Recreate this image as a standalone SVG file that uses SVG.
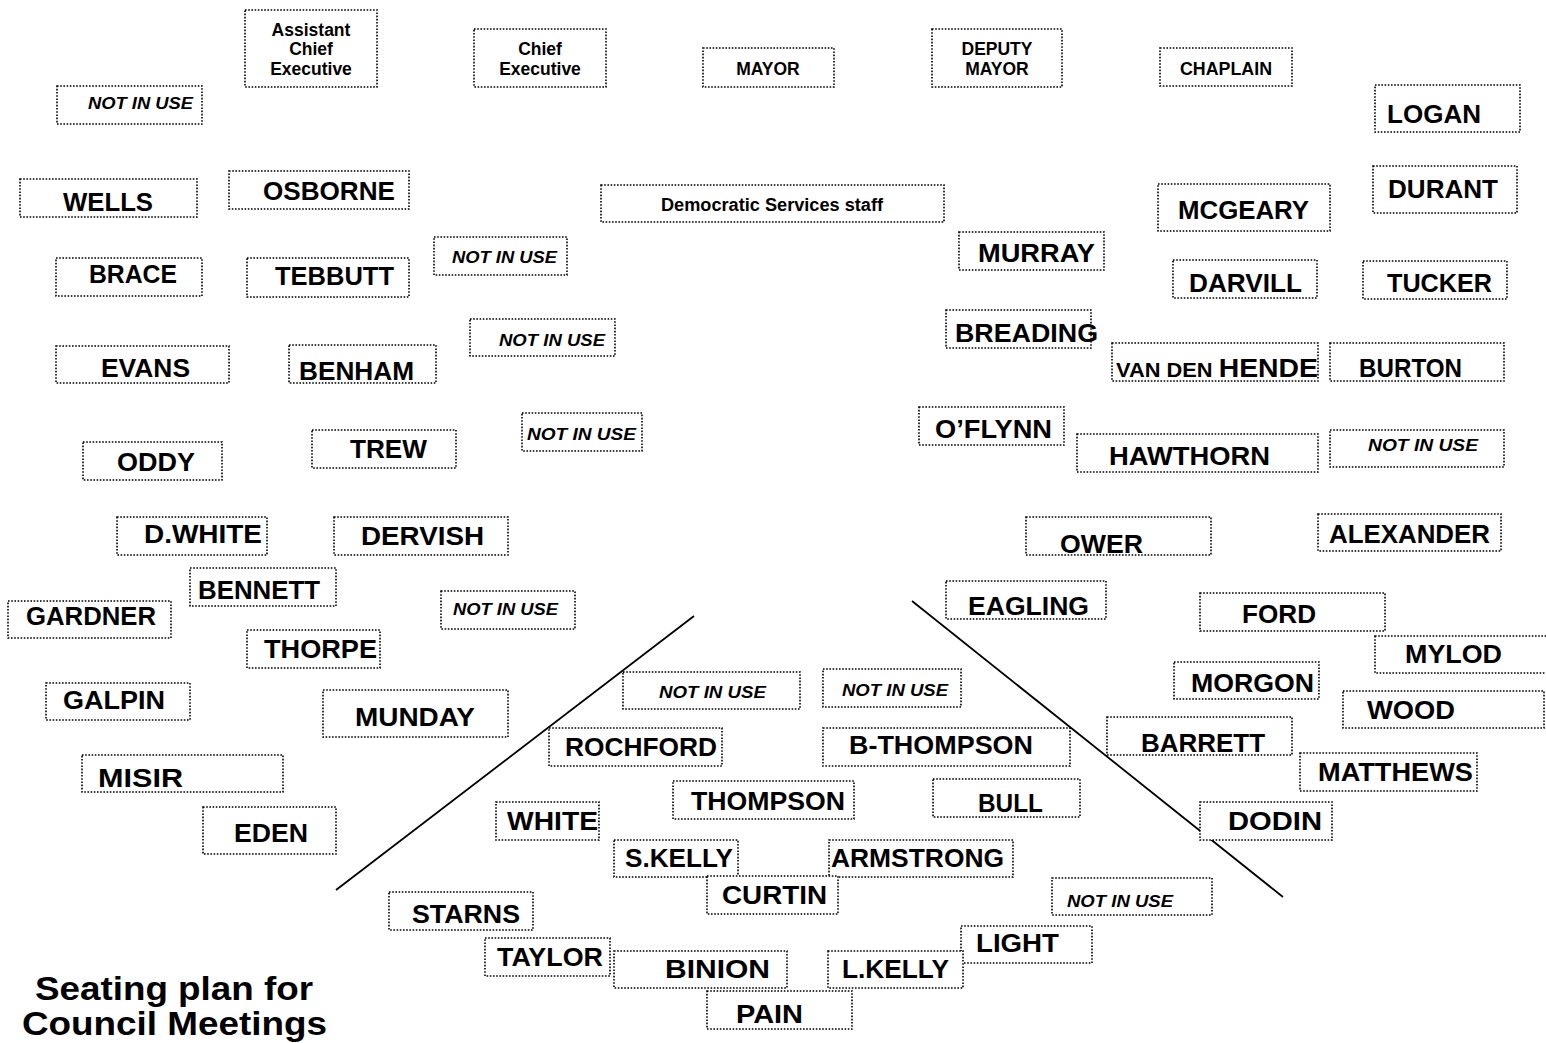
<svg xmlns="http://www.w3.org/2000/svg" width="1546" height="1043" viewBox="0 0 1546 1043">
<style>
rect{fill:#fff;stroke:#000;stroke-width:1.6;stroke-dasharray:1.6 1.6}
text{font-family:"Liberation Sans",Arial,sans-serif;font-weight:bold;fill:#000}
.n{font-size:26px}
.s{font-size:17.5px;text-anchor:middle}
.u{font-size:16.5px;font-style:italic}
.t{font-size:34px}
line{stroke:#000;stroke-width:1.8}
</style>
<rect x="0" y="0" width="1546" height="1043" style="fill:#fff;stroke:none"/>
<g id="connectors">
<line x1="694" y1="616" x2="336" y2="890"/>
<line x1="912" y1="601" x2="1283" y2="897"/>
</g>
<g id="ace"><rect x="245" y="10" width="132" height="77"/><text class="s" x="311" y="36">Assistant</text><text class="s" x="311" y="55">Chief</text><text class="s" x="311" y="75">Executive</text></g>
<g id="ce"><rect x="474" y="29" width="132" height="58"/><text class="s" x="540" y="55">Chief</text><text class="s" x="540" y="75">Executive</text></g>
<g id="mayor"><rect x="703" y="48" width="131" height="39"/><text class="s" x="768" y="75">MAYOR</text></g>
<g id="deputy"><rect x="932" y="29" width="130" height="58"/><text class="s" x="997" y="55">DEPUTY</text><text class="s" x="997" y="75">MAYOR</text></g>
<g id="chaplain"><rect x="1160" y="48" width="132" height="38"/><text class="s" x="1226" y="75" textLength="92" lengthAdjust="spacingAndGlyphs">CHAPLAIN</text></g>
<g id="niu1"><rect x="57" y="86" width="145" height="38"/><text class="u" x="88" y="109" textLength="105" lengthAdjust="spacingAndGlyphs">NOT IN USE</text></g>
<g id="logan"><rect x="1375" y="85" width="145" height="47"/><text class="n" x="1387" y="123" textLength="94" lengthAdjust="spacingAndGlyphs">LOGAN</text></g>
<g id="wells"><rect x="20" y="179" width="177" height="38"/><text class="n" x="63" y="211" textLength="90" lengthAdjust="spacingAndGlyphs">WELLS</text></g>
<g id="osborne"><rect x="229" y="171" width="180" height="38"/><text class="n" x="263" y="200" textLength="132" lengthAdjust="spacingAndGlyphs">OSBORNE</text></g>
<g id="dss"><rect x="601" y="185" width="343" height="37"/><text class="s" x="772" y="211" textLength="222" lengthAdjust="spacingAndGlyphs">Democratic Services staff</text></g>
<g id="durant"><rect x="1373" y="166" width="144" height="47"/><text class="n" x="1388" y="198" textLength="110" lengthAdjust="spacingAndGlyphs">DURANT</text></g>
<g id="mcgeary"><rect x="1158" y="184" width="172" height="47"/><text class="n" x="1178" y="219" textLength="131" lengthAdjust="spacingAndGlyphs">MCGEARY</text></g>
<g id="murray"><rect x="959" y="232" width="145" height="38"/><text class="n" x="978" y="262" textLength="117" lengthAdjust="spacingAndGlyphs">MURRAY</text></g>
<g id="niu2"><rect x="434" y="237" width="133" height="38"/><text class="u" x="452" y="263" textLength="105" lengthAdjust="spacingAndGlyphs">NOT IN USE</text></g>
<g id="brace"><rect x="56" y="258" width="146" height="38"/><text class="n" x="89" y="283" textLength="88" lengthAdjust="spacingAndGlyphs">BRACE</text></g>
<g id="tebbutt"><rect x="247" y="258" width="162" height="39"/><text class="n" x="275" y="285" textLength="119" lengthAdjust="spacingAndGlyphs">TEBBUTT</text></g>
<g id="darvill"><rect x="1173" y="260" width="144" height="38"/><text class="n" x="1189" y="292" textLength="113" lengthAdjust="spacingAndGlyphs">DARVILL</text></g>
<g id="tucker"><rect x="1363" y="261" width="144" height="38"/><text class="n" x="1387" y="292" textLength="105" lengthAdjust="spacingAndGlyphs">TUCKER</text></g>
<g id="niu3"><rect x="470" y="319" width="145" height="37"/><text class="u" x="499" y="346" textLength="106" lengthAdjust="spacingAndGlyphs">NOT IN USE</text></g>
<g id="breading"><rect x="946" y="310" width="145" height="38"/><text class="n" x="955" y="342" textLength="143" lengthAdjust="spacingAndGlyphs">BREADING</text></g>
<g id="evans"><rect x="56" y="346" width="173" height="37"/><text class="n" x="101" y="377" textLength="89" lengthAdjust="spacingAndGlyphs">EVANS</text></g>
<g id="benham"><rect x="289" y="345" width="147" height="38"/><text class="n" x="299" y="380" textLength="115" lengthAdjust="spacingAndGlyphs">BENHAM</text></g>
<g id="vandenhende"><rect x="1112" y="343" width="206" height="38"/><text x="1116" y="377" textLength="202" lengthAdjust="spacingAndGlyphs"><tspan font-size="20">VAN DEN </tspan><tspan font-size="26">HENDE</tspan></text></g>
<g id="burton"><rect x="1330" y="343" width="174" height="38"/><text class="n" x="1359" y="377" textLength="103" lengthAdjust="spacingAndGlyphs">BURTON</text></g>
<g id="niu4"><rect x="522" y="413" width="120" height="38"/><text class="u" x="527" y="440" textLength="109" lengthAdjust="spacingAndGlyphs">NOT IN USE</text></g>
<g id="trew"><rect x="312" y="430" width="144" height="38"/><text class="n" x="350" y="458" textLength="77" lengthAdjust="spacingAndGlyphs">TREW</text></g>
<g id="oflynn"><rect x="919" y="407" width="145" height="38"/><text class="n" x="935" y="438" textLength="117" lengthAdjust="spacingAndGlyphs">O’FLYNN</text></g>
<g id="hawthorn"><rect x="1077" y="434" width="241" height="38"/><text class="n" x="1109" y="465" textLength="161" lengthAdjust="spacingAndGlyphs">HAWTHORN</text></g>
<g id="niu5"><rect x="1330" y="430" width="174" height="37"/><text class="u" x="1368" y="451" textLength="110" lengthAdjust="spacingAndGlyphs">NOT IN USE</text></g>
<g id="oddy"><rect x="83" y="442" width="139" height="38"/><text class="n" x="117" y="471" textLength="78" lengthAdjust="spacingAndGlyphs">ODDY</text></g>
<g id="dwhite"><rect x="117" y="517" width="150" height="38"/><text class="n" x="144" y="543" textLength="118" lengthAdjust="spacingAndGlyphs">D.WHITE</text></g>
<g id="dervish"><rect x="334" y="517" width="174" height="38"/><text class="n" x="361" y="545" textLength="123" lengthAdjust="spacingAndGlyphs">DERVISH</text></g>
<g id="ower"><rect x="1026" y="517" width="185" height="38"/><text class="n" x="1060" y="553" textLength="83" lengthAdjust="spacingAndGlyphs">OWER</text></g>
<g id="alexander"><rect x="1318" y="514" width="183" height="37"/><text class="n" x="1329" y="543" textLength="161" lengthAdjust="spacingAndGlyphs">ALEXANDER</text></g>
<g id="bennett"><rect x="190" y="568" width="146" height="38"/><text class="n" x="198" y="599" textLength="122" lengthAdjust="spacingAndGlyphs">BENNETT</text></g>
<g id="gardner"><rect x="8" y="601" width="163" height="37"/><text class="n" x="26" y="625" textLength="130" lengthAdjust="spacingAndGlyphs">GARDNER</text></g>
<g id="niu6"><rect x="441" y="591" width="134" height="38"/><text class="u" x="453" y="615" textLength="105" lengthAdjust="spacingAndGlyphs">NOT IN USE</text></g>
<g id="eagling"><rect x="946" y="581" width="160" height="38"/><text class="n" x="968" y="615" textLength="121" lengthAdjust="spacingAndGlyphs">EAGLING</text></g>
<g id="ford"><rect x="1200" y="593" width="185" height="38"/><text class="n" x="1242" y="623" textLength="74" lengthAdjust="spacingAndGlyphs">FORD</text></g>
<g id="thorpe"><rect x="247" y="630" width="133" height="38"/><text class="n" x="264" y="658" textLength="113" lengthAdjust="spacingAndGlyphs">THORPE</text></g>
<g id="mylod"><rect x="1375" y="636" width="175" height="37"/><text class="n" x="1405" y="663" textLength="97" lengthAdjust="spacingAndGlyphs">MYLOD</text></g>
<g id="niu7"><rect x="623" y="672" width="177" height="37"/><text class="u" x="659" y="698" textLength="107" lengthAdjust="spacingAndGlyphs">NOT IN USE</text></g>
<g id="niu8"><rect x="823" y="669" width="138" height="38"/><text class="u" x="842" y="696" textLength="106" lengthAdjust="spacingAndGlyphs">NOT IN USE</text></g>
<g id="galpin"><rect x="46" y="683" width="144" height="37"/><text class="n" x="63" y="709" textLength="102" lengthAdjust="spacingAndGlyphs">GALPIN</text></g>
<g id="munday"><rect x="323" y="690" width="185" height="47"/><text class="n" x="355" y="726" textLength="120" lengthAdjust="spacingAndGlyphs">MUNDAY</text></g>
<g id="morgon"><rect x="1174" y="662" width="145" height="37"/><text class="n" x="1191" y="692" textLength="123" lengthAdjust="spacingAndGlyphs">MORGON</text></g>
<g id="wood"><rect x="1343" y="691" width="201" height="37"/><text class="n" x="1367" y="719" textLength="88" lengthAdjust="spacingAndGlyphs">WOOD</text></g>
<g id="barrett"><rect x="1107" y="717" width="185" height="38"/><text class="n" x="1141" y="752" textLength="124" lengthAdjust="spacingAndGlyphs">BARRETT</text></g>
<g id="rochford"><rect x="549" y="728" width="173" height="38"/><text class="n" x="565" y="756" textLength="152" lengthAdjust="spacingAndGlyphs">ROCHFORD</text></g>
<g id="bthompson"><rect x="823" y="728" width="247" height="38"/><text class="n" x="849" y="754" textLength="184" lengthAdjust="spacingAndGlyphs">B-THOMPSON</text></g>
<g id="matthews"><rect x="1300" y="753" width="177" height="38"/><text class="n" x="1318" y="781" textLength="155" lengthAdjust="spacingAndGlyphs">MATTHEWS</text></g>
<g id="misir"><rect x="82" y="755" width="201" height="37"/><text class="n" x="98" y="787" textLength="85" lengthAdjust="spacingAndGlyphs">MISIR</text></g>
<g id="thompson"><rect x="673" y="781" width="181" height="38"/><text class="n" x="691" y="810" textLength="154" lengthAdjust="spacingAndGlyphs">THOMPSON</text></g>
<g id="bull"><rect x="933" y="779" width="147" height="38"/><text class="n" x="978" y="812" textLength="65" lengthAdjust="spacingAndGlyphs">BULL</text></g>
<g id="white"><rect x="496" y="802" width="103" height="38"/><text class="n" x="507" y="830" textLength="91" lengthAdjust="spacingAndGlyphs">WHITE</text></g>
<g id="dodin"><rect x="1200" y="802" width="132" height="38"/><text class="n" x="1228" y="830" textLength="94" lengthAdjust="spacingAndGlyphs">DODIN</text></g>
<g id="eden"><rect x="203" y="807" width="133" height="47"/><text class="n" x="234" y="842" textLength="74" lengthAdjust="spacingAndGlyphs">EDEN</text></g>
<g id="skelly"><rect x="614" y="840" width="124" height="37"/><text class="n" x="625" y="867" textLength="108" lengthAdjust="spacingAndGlyphs">S.KELLY</text></g>
<g id="armstrong"><rect x="829" y="840" width="184" height="37"/><text class="n" x="831" y="867" textLength="173" lengthAdjust="spacingAndGlyphs">ARMSTRONG</text></g>
<g id="curtin"><rect x="707" y="876" width="131" height="38"/><text class="n" x="722" y="904" textLength="105" lengthAdjust="spacingAndGlyphs">CURTIN</text></g>
<g id="niu9"><rect x="1052" y="878" width="160" height="37"/><text class="u" x="1067" y="907" textLength="106" lengthAdjust="spacingAndGlyphs">NOT IN USE</text></g>
<g id="starns"><rect x="389" y="892" width="144" height="38"/><text class="n" x="412" y="923" textLength="108" lengthAdjust="spacingAndGlyphs">STARNS</text></g>
<g id="light"><rect x="961" y="926" width="131" height="37"/><text class="n" x="976" y="952" textLength="83" lengthAdjust="spacingAndGlyphs">LIGHT</text></g>
<g id="taylor"><rect x="485" y="938" width="125" height="38"/><text class="n" x="497" y="966" textLength="106" lengthAdjust="spacingAndGlyphs">TAYLOR</text></g>
<g id="binion"><rect x="614" y="951" width="173" height="37"/><text class="n" x="665" y="978" textLength="105" lengthAdjust="spacingAndGlyphs">BINION</text></g>
<g id="lkelly"><rect x="828" y="951" width="135" height="37"/><text class="n" x="842" y="978" textLength="107" lengthAdjust="spacingAndGlyphs">L.KELLY</text></g>
<g id="pain"><rect x="707" y="991" width="145" height="38"/><text class="n" x="736" y="1023" textLength="67" lengthAdjust="spacingAndGlyphs">PAIN</text></g>
<g id="title"><text class="t" x="35" y="1000" textLength="278" lengthAdjust="spacingAndGlyphs">Seating plan for</text><text class="t" x="22" y="1035" textLength="305" lengthAdjust="spacingAndGlyphs">Council Meetings</text></g>
</svg>
